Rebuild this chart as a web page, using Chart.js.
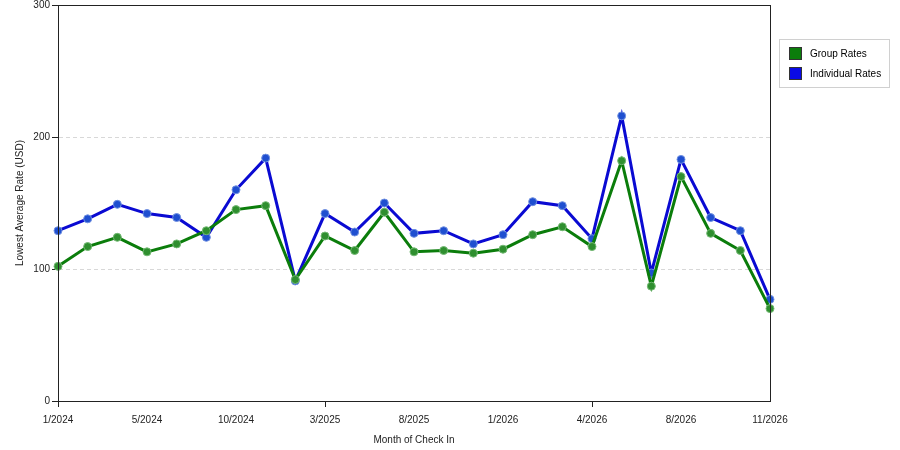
<!DOCTYPE html>
<html>
<head>
<meta charset="utf-8">
<script src="https://cdn.jsdelivr.net/npm/chart.js@4"></script>
<style>
  html, body { margin: 0; padding: 0; background: #fff; }
  #wrap { width: 900px; height: 450px; }
</style>
</head>
<body>
<div id="wrap"><canvas id="rateChart" width="900" height="450"></canvas></div>
<script>
// months of check in (only every 3rd one is labelled on the axis)
const months = [
  '1/2024', '3/2024', '4/2024', '5/2024', '6/2024', '8/2024', '10/2024', '11/2024',
  '1/2025', '3/2025', '5/2025', '6/2025', '8/2025', '10/2025', '11/2025', '1/2026',
  '2/2026', '3/2026', '4/2026', '5/2026', '7/2026', '8/2026', '9/2026', '10/2026', '11/2026'
]
const groupRates = [
  102, 117, 124, 113, 119, 129, 145, 148, 92, 125, 114, 143, 113,
  114, 112, 115, 126, 132, 117, 182, 87, 170, 127, 114, 70
]
const individualRates = [
  129, 138, 149, 142, 139, 124, 160, 184, 91, 142, 128, 150, 127,
  129, 119, 126, 151, 148, 123, 216, 97, 183, 139, 129, 77
]
const yTicks = [0, 100, 200, 300]

const FONT = '"Liberation Sans", Arial, sans-serif'

const legendBox = {
  id: 'legendBox',
  afterDraw(chart) {
    const ctx = chart.ctx
    const x = 779, y = 39, w = 110, h = 48
    ctx.save()
    ctx.strokeStyle = '#d0d0d0'
    ctx.lineWidth = 1
    ctx.strokeRect(x + 0.5, y + 0.5, w, h)
    ctx.font = '10px ' + FONT
    ctx.textBaseline = 'middle'
    chart.data.datasets.forEach((ds, i) => {
      const sy = y + 8 + i * 20
      ctx.fillStyle = ds.swatch
      ctx.fillRect(x + 10, sy, 13, 13)
      ctx.strokeStyle = '#333'
      ctx.strokeRect(x + 10.5, sy + 0.5, 12, 12)
      ctx.fillStyle = '#000'
      ctx.fillText(ds.label, x + 31, sy + 7.5)
    })
    ctx.restore()
  }
}

const frame = {
  id: 'frame',
  afterDatasetsDraw(chart) {
    const a = chart.chartArea
    const ctx = chart.ctx
    ctx.save()
    ctx.strokeStyle = '#222'
    ctx.lineWidth = 1
    ctx.strokeRect(Math.round(a.left) + 0.5, Math.round(a.top) + 0.5,
      Math.round(a.right - a.left), Math.round(a.bottom - a.top))
    ctx.restore()
  }
}

new Chart(document.getElementById('rateChart'), {
  type: 'line',
  data: {
    labels: months,
    datasets: [
      {
        label: 'Group Rates',
        data: groupRates,
        borderColor: '#0b7d0b',
        borderWidth: 3,
        pointRadius: 4,
        pointBackgroundColor: '#2f8f2f',
        pointBorderColor: '#73b873',
        pointBorderWidth: 1,
        tension: 0,
        swatch: '#0b7d0b'
      },
      {
        label: 'Individual Rates',
        data: individualRates,
        borderColor: '#0a0ad2',
        borderWidth: 3,
        pointRadius: 4,
        pointBackgroundColor: '#1f4fd0',
        pointBorderColor: '#7090e0',
        pointBorderWidth: 1,
        tension: 0,
        swatch: '#0a0ae6'
      }
    ]
  },
  options: {
    responsive: false,
    animation: false,
    layout: { padding: { left: 10, right: 130, top: 5, bottom: 0 }, autoPadding: false },
    plugins: {
      legend: { display: false },
      tooltip: { enabled: false }
    },
    scales: {
      x: {
        offset: false,
        grid: {
          display: true,
          drawOnChartArea: false,
          tickLength: 6,
          tickColor: (c) => (c.index % 3 === 0 ? '#222' : 'rgba(0,0,0,0)')
        },
        border: { display: true, color: '#222' },
        ticks: {
          autoSkip: false,
          maxRotation: 0,
          color: '#222',
          font: { size: 10, family: FONT },
          padding: 7,
          callback: (v, i) => (i % 3 === 0 ? months[i] : null)
        },
        title: {
          display: true,
          text: 'Month of Check In',
          color: '#222',
          font: { size: 10, family: FONT },
          padding: { top: 1 }
        },
        afterFit: (s) => { s.height = 49 }
      },
      y: {
        min: 0,
        max: 300,
        afterBuildTicks: (s) => { s.ticks = yTicks.map((v) => ({ value: v })) },
        grid: {
          color: (c) => (c.tick && (c.tick.value === 0 || c.tick.value === 300) ? 'rgba(0,0,0,0)' : '#d8d8d8'),
          tickColor: '#222',
          tickLength: 6
        },
        border: { display: true, color: '#222', dash: [4, 3] },
        ticks: {
          color: '#222',
          font: { size: 10, family: FONT },
          padding: 2
        },
        title: {
          display: true,
          text: 'Lowest Average Rate (USD)',
          color: '#222',
          font: { size: 10, family: FONT },
          padding: { bottom: 4 }
        },
        afterFit: (s) => {
          s.width = 48
          s.paddingTop = 0
          s.paddingBottom = 0
        }
      }
    }
  },
  plugins: [frame, legendBox]
})
</script>
</body>
</html>
